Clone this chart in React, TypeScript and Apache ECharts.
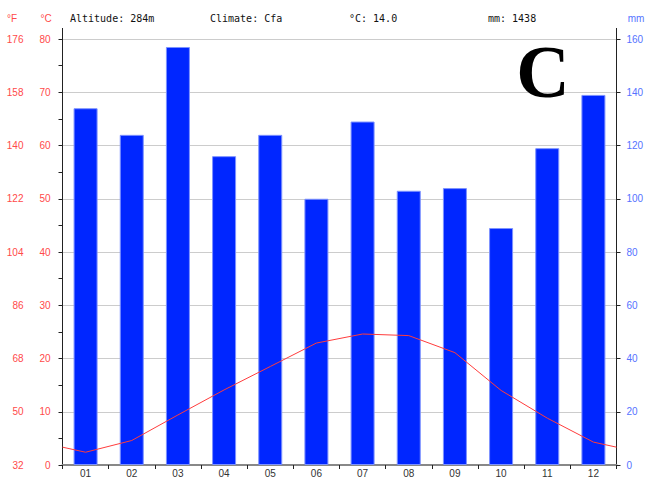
import React, { useEffect, useRef } from "react";
import * as echarts from "echarts";

const months = ["01", "02", "03", "04", "05", "06", "07", "08", "09", "10", "11", "12"];
const precipitation = [134, 124, 157, 116, 124, 100, 129, 103, 104, 89, 119, 139];
const temperature = [2.4, 4.6, 9.4, 14.1, 18.5, 22.9, 24.6, 24.3, 21.1, 14.0, 8.8, 4.3];
const fahrenheitTicks = ["32", "50", "68", "86", "104", "122", "140", "158", "176"];
const headerTexts = ["Altitude: 284m", "Climate: Cfa", "°C: 14.0", "mm: 1438"];
const climateLetter = "C";

const RED = "#ff4a4a";
const BLUE = "#5573ff";

export default function App() {
  const ref = useRef<HTMLDivElement>(null);
  useEffect(() => {
    if (!ref.current) return;
    const chart = echarts.init(ref.current, null, { renderer: "svg" });
    const edge = (temperature[0] + temperature[11]) / 2;
    const lineData: number[][] = [[0, edge]];
    temperature.forEach((t, i) => lineData.push([i + 0.5, t]));
    lineData.push([12, edge]);

    const gL = 62.5;
    const gR = 616.5;
    const headerX = [70, 210, 349, 488];

    chart.setOption({
      animation: false,
      backgroundColor: "#ffffff",
      grid: { left: gL, right: 646 - gR, top: 39, bottom: 12, containLabel: false, outerBoundsMode: "none" },
      xAxis: [
        {
          type: "category",
          data: months,
          boundaryGap: true,
          axisLine: { show: true, lineStyle: { color: "#888888", width: 2 } },
          axisTick: { show: true, alignWithLabel: false, length: 4, lineStyle: { color: "#222222" } },
          axisLabel: { color: "#333333", fontSize: 10, lineHeight: 10, fontFamily: "Liberation Sans", margin: 3 },
          splitLine: { show: false },
        },
        { type: "value", min: 0, max: 12, show: false },
      ],
      yAxis: [
        {
          type: "value",
          position: "left",
          min: 0,
          max: 80,
          interval: 10,
          axisLine: { show: true, lineStyle: { color: "#222222", width: 1 } },
          axisTick: { show: true, length: 4, lineStyle: { color: "#222222" } },
          minorTick: { show: true, splitNumber: 2, length: 4, lineStyle: { color: "#222222" } },
          axisLabel: { color: RED, fontSize: 10, fontFamily: "Liberation Sans", margin: 12 },
          splitLine: { show: true, lineStyle: { color: "#cccccc", width: 1 } },
        },
        {
          type: "value",
          position: "left",
          min: 0,
          max: 80,
          interval: 10,
          axisLine: { show: false },
          axisTick: { show: false },
          axisLabel: {
            color: RED,
            fontSize: 10,
            fontFamily: "Liberation Sans",
            margin: 39,
            formatter: (v: number) => fahrenheitTicks[Math.round(v / 10)] ?? "",
          },
          splitLine: { show: false },
        },
        {
          type: "value",
          position: "right",
          min: 0,
          max: 160,
          interval: 20,
          axisLine: { show: true, lineStyle: { color: "#222222", width: 1 } },
          axisTick: { show: true, length: 4, lineStyle: { color: "#222222" } },
          minorTick: { show: false },
          axisLabel: { color: BLUE, fontSize: 10, fontFamily: "Liberation Sans", margin: 10 },
          splitLine: { show: false },
        },
      ],
      series: [
        {
          type: "bar",
          xAxisIndex: 0,
          yAxisIndex: 2,
          data: precipitation,
          barWidth: 24,
          itemStyle: { color: "#0026ff", borderColor: "#7d92ff", borderWidth: 1 },
          z: 2,
        },
        {
          type: "line",
          xAxisIndex: 1,
          yAxisIndex: 0,
          data: lineData,
          showSymbol: false,
          symbol: "none",
          lineStyle: { color: "#ff3c3c", width: 1 },
          z: 3,
        },
      ],
      graphic: [
        { type: "line", shape: { x1: gL, y1: 28, x2: gL, y2: 39 }, style: { stroke: "#222222", lineWidth: 1 } },
        { type: "line", shape: { x1: gR, y1: 28, x2: gR, y2: 39 }, style: { stroke: "#222222", lineWidth: 1 } },
        { type: "text", x: 12, y: 18, style: { text: "°F", fill: RED, font: "10px 'Liberation Sans'", textAlign: "center", textVerticalAlign: "middle" } },
        { type: "text", x: 46, y: 18, style: { text: "°C", fill: RED, font: "10px 'Liberation Sans'", textAlign: "center", textVerticalAlign: "middle" } },
        { type: "text", x: 636, y: 18, style: { text: "mm", fill: BLUE, font: "10px 'Liberation Sans'", textAlign: "center", textVerticalAlign: "middle" } },
        ...headerTexts.map((t, i) => ({
          type: "text",
          x: headerX[i],
          y: 18,
          style: { text: t, fill: "#111111", font: "10px 'DejaVu Sans Mono'", textAlign: "left", textVerticalAlign: "middle" },
        })),
        {
          type: "text",
          x: 543,
          y: 72,
          style: { text: climateLetter, fill: "#000000", font: "bold 74px 'Liberation Serif'", textAlign: "center", textVerticalAlign: "middle" },
          z: 10,
        },
      ],
    });
    return () => chart.dispose();
  }, []);
  return <div ref={ref} style={{ position: "fixed", left: 0, top: 0, width: 646, height: 477 }} />;
}
